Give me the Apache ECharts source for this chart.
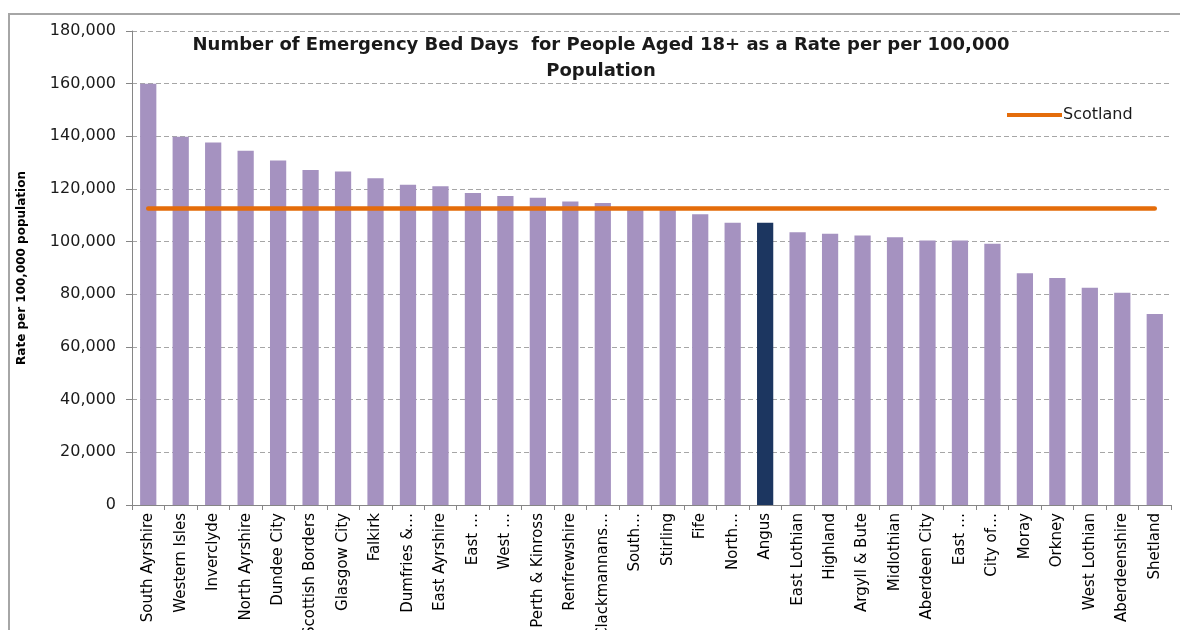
<!DOCTYPE html>
<html>
<head>
<meta charset="utf-8">
<script src="https://cdn.jsdelivr.net/npm/echarts@6/dist/echarts.min.js"></script>
<style>
  html, body { margin: 0; padding: 0; background: #ffffff; }
  #chart { width: 1180px; height: 630px; }
</style>
</head>
<body>
<div id="chart"></div>
<script>
// Council areas, ordered by rate (labels as shown under the axis)
const areas = [
  'South Ayrshire', 'Western Isles', 'Inverclyde', 'North Ayrshire', 'Dundee City',
  'Scottish Borders', 'Glasgow City', 'Falkirk', 'Dumfries &…', 'East Ayrshire',
  'East …', 'West …', 'Perth & Kinross', 'Renfrewshire', 'Clackmannans…',
  'South…', 'Stirling', 'Fife', 'North…', 'Angus',
  'East Lothian', 'Highland', 'Argyll & Bute', 'Midlothian', 'Aberdeen City',
  'East …', 'City of…', 'Moray', 'Orkney', 'West Lothian',
  'Aberdeenshire', 'Shetland'
];

// Emergency bed days per 100,000 population (aged 18+)
const rates = [
  160000, 139800, 137700, 134500, 130800,
  127200, 126600, 124100, 121600, 121000,
  118500, 117300, 116700, 115300, 114700,
  112900, 112300, 110400, 107200, 107200,
  103600, 103000, 102300, 101700, 100400,
  100400, 99200, 88000, 86200, 82500,
  80600, 72500
];

// Scotland-wide rate
const scotlandRate = 112600;

// Highlighted area
const highlightIndex = 19;

// Y axis ticks
const yMin = 0;
const yMax = 180000;
const yStep = 20000;

const barColor = '#A592C0';
const highlightColor = '#1C3660';

const chart = echarts.init(document.getElementById('chart'));

const barData = rates.map((v, i) => ({
  value: v,
  itemStyle: { color: i === highlightIndex ? highlightColor : barColor }
}));
const scotlandData = areas.map(() => scotlandRate);

chart.setOption({
  animation: false,
  backgroundColor: '#ffffff',
  graphic: [{
    type: 'rect',
    shape: { x: 9, y: 14, width: 1400, height: 800 },
    style: { fill: 'none', stroke: '#A6A6A6', lineWidth: 2 },
    silent: true,
    z: -10
  }],
  title: {
    text: 'Number of Emergency Bed Days  for People Aged 18+ as a Rate per per 100,000\nPopulation',
    left: 601,
    top: 32,
    textAlign: 'center',
    padding: 0,
    textStyle: {
      fontFamily: 'DejaVu Sans',
      fontSize: 18,
      fontWeight: 'bold',
      color: '#1a1a1a',
      lineHeight: 26
    }
  },
  legend: {
    data: ['Scotland'],
    left: 1007,
    top: 107,
    padding: 0,
    itemWidth: 55,
    itemHeight: 4,
    itemGap: 0,
    icon: 'rect',
    textStyle: { fontFamily: 'DejaVu Sans', fontSize: 16, color: '#1a1a1a', padding: [0, 0, 0, -4] }
  },
  grid: {
    left: 132, top: 31, width: 1039, height: 474,
    containLabel: false,
    outerBoundsMode: 'none'
  },
  xAxis: {
    type: 'category',
    data: areas,
    axisLine: { lineStyle: { color: '#868686', width: 1 } },
    axisTick: { show: true, alignWithLabel: false, length: 5, lineStyle: { color: '#868686' } },
    axisLabel: {
      interval: 0,
      rotate: 90,
      margin: 8,
      fontFamily: 'DejaVu Sans',
      fontSize: 15,
      color: '#000000'
    }
  },
  yAxis: {
    type: 'value',
    min: yMin,
    max: yMax,
    interval: yStep,
    name: 'Rate per 100,000 population',
    nameLocation: 'middle',
    nameGap: 104,
    nameTextStyle: { fontFamily: 'DejaVu Sans', fontSize: 12, fontWeight: 'bold', color: '#000000' },
    axisLine: { show: true, lineStyle: { color: '#868686', width: 1 } },
    axisTick: { show: true, length: 6, lineStyle: { color: '#868686' } },
    axisLabel: {
      margin: 16,
      fontFamily: 'DejaVu Sans',
      fontSize: 16,
      color: '#1a1a1a',
      formatter: v => v.toLocaleString('en-GB')
    },
    splitLine: { show: true, lineStyle: { color: '#A6A6A6', type: [5, 3], width: 1 } }
  },
  series: [
    {
      type: 'bar',
      data: barData,
      barWidth: '50%',
      z: 2
    },
    {
      name: 'Scotland',
      type: 'line',
      data: scotlandData,
      symbol: 'none',
      color: '#E46C0A',
      lineStyle: { color: '#E46C0A', width: 4.5, cap: 'round' },
      z: 3
    }
  ]
});
</script>
</body>
</html>
